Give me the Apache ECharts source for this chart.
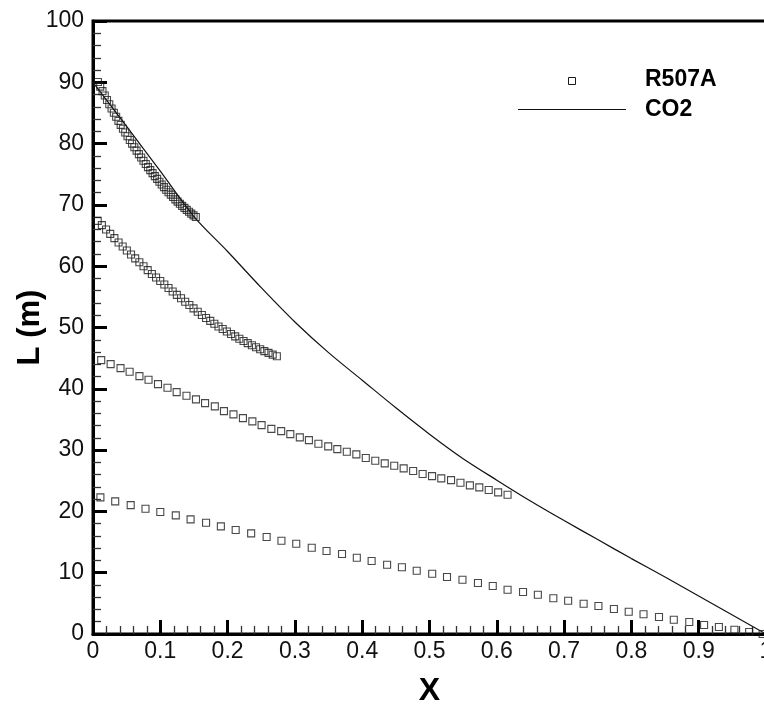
<!DOCTYPE html>
<html>
<head>
<meta charset="utf-8">
<script src="https://cdn.jsdelivr.net/npm/echarts@6/dist/echarts.min.js"></script>
<style>
html,body{margin:0;padding:0;background:#fff;}
#chart{width:764px;height:710px;}
</style>
</head>
<body>
<div id="chart"></div>
<script>
// R507A series 1
const x1 = [0.0073,0.0107,0.0141,0.0175,0.0208,0.0242,0.0276,0.0310,0.0344,0.0378,0.0411,0.0445,0.0479,0.0513,0.0547,0.0581,0.0614,0.0648,0.0682,0.0716,0.0750,0.0784,0.0817,0.0851,0.0885,0.0919,0.0953,0.0987,0.1021,0.1054,0.1088,0.1122,0.1156,0.1190,0.1224,0.1257,0.1291,0.1325,0.1359,0.1393,0.1427,0.1460,0.1494,0.1528];
const L1 = [90.05,89.30,88.56,87.84,87.12,86.42,85.72,85.04,84.37,83.71,83.06,82.43,81.80,81.19,80.59,79.99,79.41,78.85,78.29,77.74,77.21,76.68,76.17,75.67,75.18,74.70,74.24,73.78,73.33,72.90,72.48,72.07,71.67,71.28,70.90,70.54,70.18,69.84,69.51,69.19,68.88,68.58,68.29,68.02];
// R507A series 2
const x2 = [0.0070,0.0132,0.0194,0.0256,0.0318,0.0380,0.0441,0.0503,0.0565,0.0627,0.0689,0.0751,0.0813,0.0875,0.0937,0.0999,0.1060,0.1122,0.1184,0.1246,0.1308,0.1370,0.1432,0.1494,0.1556,0.1618,0.1680,0.1742,0.1803,0.1865,0.1927,0.1989,0.2051,0.2113,0.2175,0.2237,0.2299,0.2361,0.2422,0.2484,0.2546,0.2608,0.2670,0.2732];
const L2 = [67.40,66.70,65.99,65.28,64.58,63.87,63.22,62.57,61.92,61.28,60.64,60.00,59.36,58.72,58.15,57.58,57.01,56.44,55.88,55.32,54.76,54.20,53.66,53.12,52.58,52.04,51.55,51.08,50.62,50.17,49.75,49.34,48.94,48.55,48.17,47.80,47.45,47.11,46.77,46.44,46.15,45.86,45.58,45.30];
// R507A series 3
const x3 = [0.0122,0.0262,0.0409,0.0544,0.0690,0.0825,0.0966,0.1107,0.1243,0.1389,0.1530,0.1665,0.1810,0.1946,0.2087,0.2228,0.2368,0.2505,0.2650,0.2796,0.2932,0.3073,0.3208,0.3349,0.3495,0.3630,0.3771,0.3913,0.4053,0.4194,0.4335,0.4476,0.4616,0.4757,0.4898,0.5038,0.5175,0.5320,0.5460,0.5600,0.5740,0.5880,0.6020,0.6160];
const L3 = [44.68,44.02,43.37,42.77,42.07,41.47,40.76,40.16,39.46,38.86,38.27,37.67,37.13,36.36,35.82,35.22,34.68,34.08,33.47,33.10,32.61,32.07,31.63,31.03,30.60,30.16,29.73,29.30,28.70,28.26,27.83,27.44,27.02,26.58,26.09,25.76,25.39,25.11,24.67,24.25,23.92,23.48,23.10,22.71];
// R507A series 4
const x4 = [0.011,0.033,0.056,0.078,0.100,0.123,0.145,0.168,0.190,0.212,0.235,0.258,0.280,0.302,0.325,0.347,0.370,0.392,0.414,0.437,0.459,0.481,0.504,0.526,0.549,0.572,0.594,0.616,0.639,0.661,0.684,0.706,0.729,0.751,0.774,0.796,0.818,0.841,0.863,0.886,0.908,0.930,0.953,0.975,0.995];
const L4 = [22.29,21.64,21.03,20.43,19.89,19.35,18.70,18.15,17.56,16.96,16.42,15.82,15.21,14.72,14.07,13.53,13.04,12.44,11.90,11.30,10.88,10.32,9.83,9.29,8.85,8.32,7.83,7.22,6.85,6.41,5.82,5.43,4.94,4.57,4.08,3.64,3.21,2.77,2.33,1.96,1.47,1.14,0.70,0.33,0.00];
// CO2 line
const xCO2 = [0,0.05,0.10,0.15,0.20,0.25,0.30,0.35,0.40,0.45,0.50,0.55,0.60,0.65,0.70,0.75,0.80,0.85,0.90,0.95,1.00];
const LCO2 = [90,82.8,75.5,68.1,62.4,56.5,50.9,45.9,41.4,36.9,32.6,28.6,25.1,21.7,18.5,15.4,12.3,9.3,6.2,3.1,0];

const seriesNames = ['R507A','CO2'];
const xTitle = 'X';
const yTitle = 'L (m)';

const zip = (a, b) => a.map((v, i) => [v, b[i]]);
const FONT = '"Liberation Sans", Arial, sans-serif';

const markerSeries = [[x1,L1],[x2,L2],[x3,L3],[x4,L4]].map(([xs, ys]) => ({
  name: seriesNames[0],
  type: 'scatter',
  symbol: 'rect',
  symbolSize: 7,
  clip: false,
  itemStyle: { color: 'rgba(0,0,0,0)', borderColor: '#1a1a1a', borderWidth: 1.1 },
  data: zip(xs, ys),
  z: 3
}));

const chart = echarts.init(document.getElementById('chart'), null, { renderer: 'canvas' });
chart.setOption({
  backgroundColor: '#fff',
  animation: false,
  grid: {
    left: 93, right: -2, top: 21, bottom: 76,
    show: true, borderColor: '#000', borderWidth: 3,
    outerBoundsMode: 'none'
  },
  xAxis: {
    type: 'value', min: 0, max: 1, interval: 0.1,
    name: xTitle, nameLocation: 'middle', nameGap: 41, nameMoveOverlap: false,
    nameTextStyle: { fontFamily: FONT, fontSize: 32, fontWeight: 'bold', color: '#000' },
    axisLine: { show: true, lineStyle: { color: '#000', width: 3 } },
    axisTick: { show: true, inside: true, length: 14, lineStyle: { color: '#000', width: 3 } },
    minorTick: { show: true, splitNumber: 5, length: 8, lineStyle: { color: '#333', width: 1.3 } },
    splitLine: { show: false },
    axisLabel: { fontFamily: FONT, fontSize: 23, color: '#111', margin: 6,
      formatter: v => (Math.round(v * 10) / 10).toString() }
  },
  yAxis: {
    type: 'value', min: 0, max: 100, interval: 10,
    name: yTitle, nameLocation: 'middle', nameGap: 47, nameMoveOverlap: false,
    nameTextStyle: { fontFamily: FONT, fontSize: 31, fontWeight: 'bold', color: '#000' },
    axisLine: { show: true, lineStyle: { color: '#000', width: 3 } },
    axisTick: { show: true, inside: true, length: 14, lineStyle: { color: '#000', width: 3 } },
    minorTick: { show: true, splitNumber: 5, length: 8, lineStyle: { color: '#333', width: 1.3 } },
    splitLine: { show: false },
    axisLabel: { fontFamily: FONT, fontSize: 23, color: '#111', margin: 9 }
  },
  series: markerSeries.concat([{
    name: seriesNames[1],
    type: 'line',
    showSymbol: false,
    symbol: 'none',
    smooth: 0.3,
    lineStyle: { color: '#111', width: 1.2 },
    data: zip(xCO2, LCO2),
    z: 2
  }]),
  graphic: [
    { type: 'rect', shape: { x: 568.5, y: 77.5, width: 7, height: 7 },
      style: { fill: 'none', stroke: '#1a1a1a', lineWidth: 1 } },
    { type: 'line', shape: { x1: 518, y1: 109.5, x2: 626, y2: 109.5 },
      style: { stroke: '#111', lineWidth: 1.2 } },
    { type: 'text', x: 645, y: 80, style: { text: seriesNames[0], font: 'bold 23px "Liberation Sans", Arial, sans-serif', fill: '#000', verticalAlign: 'middle', align: 'left' } },
    { type: 'text', x: 645, y: 110, style: { text: seriesNames[1], font: 'bold 23px "Liberation Sans", Arial, sans-serif', fill: '#000', verticalAlign: 'middle', align: 'left' } }
  ]
});
</script>
</body>
</html>
